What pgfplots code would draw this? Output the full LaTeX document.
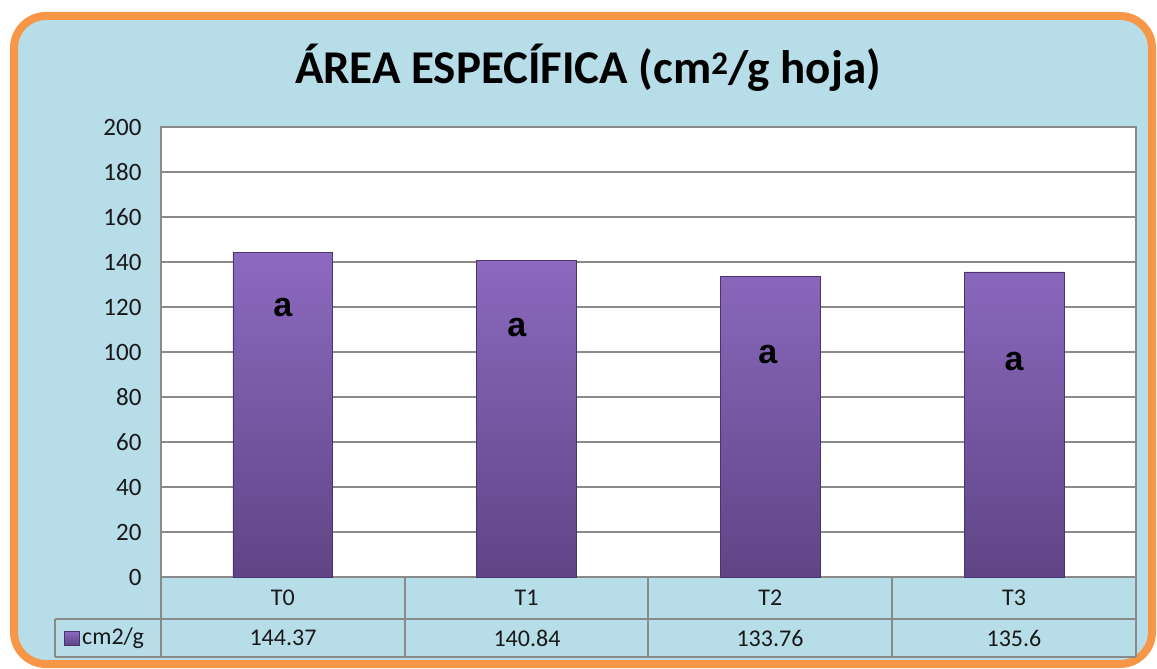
\documentclass[border=0pt]{standalone}
\usepackage{pgfplots}
\pgfplotsset{compat=1.18}
\usepackage{fontspec}
\setmainfont{Carlito}
\newfontfamily\lsans{Liberation Sans}
\definecolor{bgblue}{HTML}{B7DDE8}
\definecolor{borderorange}{HTML}{F79646}
\definecolor{gridgray}{HTML}{8A8A8A}
\definecolor{bartop}{HTML}{8C6AC0}
\definecolor{barbot}{HTML}{5F4586}
\definecolor{baredge}{HTML}{4A3470}
\begin{document}
\begin{tikzpicture}
\begin{scope}[x=1pt,y=-1pt]
\useasboundingbox (0,0) rectangle (1157,669);
\draw[line width=8pt, draw=borderorange, fill=bgblue, rounded corners=32pt] (14,16) rectangle (1152,664);
\node[font=\fontsize{47}{52}\selectfont\bfseries, text=black] at (588,68) {ÁREA ESPECÍFICA (cm\textsuperscript{2}/g hoja)};
\end{scope}
\begin{axis}[
  at={(161pt,-577pt)}, anchor=south west,
  scale only axis, width=975pt, height=450pt,
  xmin=-0.5, xmax=3.5, ymin=0, ymax=200,
  ytick={0,20,...,200},
  xtick={0,1,2,3}, xticklabels={T0,T1,T2,T3},
  major tick length=0pt,
  axis background/.style={fill=white},
  axis line style={draw=gridgray, line width=1.3pt},
  ymajorgrids, major grid style={draw=gridgray, line width=1.3pt},
  /pgf/number format/assume math mode=true,
  yticklabel style={font=\fontsize{25}{28}\selectfont, text=black!90, xshift=-16pt},
  xticklabel style={font=\fontsize{24}{28}\selectfont, text=black!90, anchor=center, yshift=-21pt},
  clip=false,
]
\addplot[ybar, bar width=0.41, draw=baredge, line width=0.8pt, top color=bartop, bottom color=barbot, middle color=barbot!50!bartop]
  coordinates {(0,144.37) (1,140.84) (2,133.76) (3,135.6)};
\node[font=\lsans\bfseries\fontsize{34}{36}\selectfont] at (axis cs:0,119.6) {a};
\node[font=\lsans\bfseries\fontsize{34}{36}\selectfont] at (axis cs:0.96,111) {a};
\node[font=\lsans\bfseries\fontsize{34}{36}\selectfont] at (axis cs:1.99,99) {a};
\node[font=\lsans\bfseries\fontsize{34}{36}\selectfont] at (axis cs:3,95.6) {a};
\end{axis}
\begin{scope}[x=1pt,y=-1pt]
% table grid
\draw[draw=gridgray, line width=1.3pt] (161,577) -- (161,657);
\draw[draw=gridgray, line width=1.3pt] (405,577) -- (405,657);
\draw[draw=gridgray, line width=1.3pt] (648,577) -- (648,657);
\draw[draw=gridgray, line width=1.3pt] (892,577) -- (892,657);
\draw[draw=gridgray, line width=1.3pt] (1136,577) -- (1136,657);
\draw[draw=gridgray, line width=1.3pt] (55,619) -- (1136,619);
\draw[draw=gridgray, line width=1.3pt] (55,657) -- (1136,657);
\draw[draw=gridgray, line width=1.3pt] (55,619) -- (55,657);
\fill[top color=bartop, bottom color=barbot, draw=baredge, line width=0.5pt] (64,631) rectangle (79,645);
\begin{scope}[every node/.style={font=\fontsize{24}{28}\selectfont, text=black!90}]
\node[anchor=west, inner sep=0pt] at (82,638) {cm2/g};
\node at (283,638) {144.37};
\node at (527,638) {140.84};
\node at (770,638) {133.76};
\node at (1014,638) {135.6};
\end{scope}
\end{scope}
\end{tikzpicture}
\end{document}
